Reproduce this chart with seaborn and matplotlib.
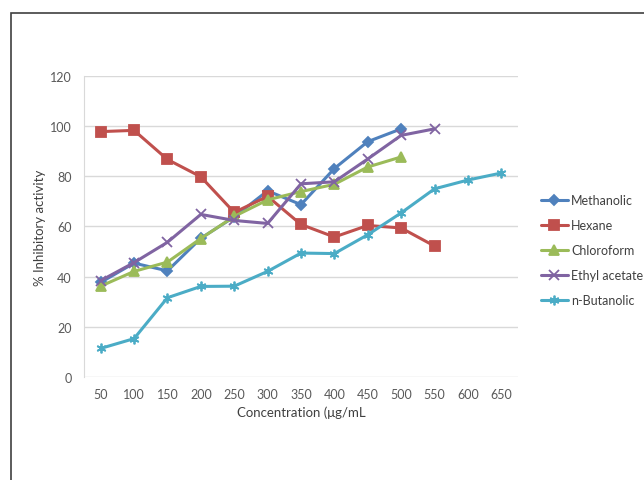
import pandas as pd
import seaborn as sns
import matplotlib.pyplot as plt
from matplotlib.patches import Rectangle

# data (% inhibition per concentration, ug/mL)
conc = [50, 100, 150, 200, 250, 300, 350, 400, 450, 500, 550, 600, 650]
methanolic = [37.7, 45.4, 42.3, 55.3, 63.8, 74.2, 68.7, 83.1, 93.8, 98.9]
hexane = [97.8, 98.3, 86.7, 79.8, 65.6, 72.0, 60.8, 55.8, 60.4, 59.4, 52.2]
chloroform = [36.2, 42.1, 45.8, 55.2, 64.0, 70.6, 73.9, 76.8, 83.7, 87.7]
ethyl_acetate = [38.4, 45.6, 53.7, 64.8, 62.4, 61.2, 77.0, 77.8, 86.9, 96.3, 98.9]
n_butanolic = [11.4, 15.3, 31.6, 36.1, 36.2, 42.1, 49.4, 49.2, 56.7, 65.4, 75.0, 78.5, 81.3]

series = {
    "Methanolic": methanolic,
    "Hexane": hexane,
    "Chloroform": chloroform,
    "Ethyl acetate": ethyl_acetate,
    "n-Butanolic": n_butanolic,
}

colors = {"Methanolic": "#4F81BD", "Hexane": "#C0504D", "Chloroform": "#9BBB59",
          "Ethyl acetate": "#8064A2", "n-Butanolic": "#4BACC6"}
markers = {"Methanolic": "D", "Hexane": "s", "Chloroform": "^",
           "Ethyl acetate": "x", "n-Butanolic": (6, 2, 0)}
msizes = {"Methanolic": 5, "Hexane": 6.5, "Chloroform": 6.5,
          "Ethyl acetate": 7, "n-Butanolic": 7}

sns.set_style("white")
plt.rcParams["font.family"] = ["Lato", "DejaVu Sans"]

fig = plt.figure(figsize=(6.44, 4.81), dpi=100)
ax = fig.add_axes([0.1304, 0.2141, 0.6739, 0.626])

# outer chart frame
fig.patches.append(Rectangle((11 / 644, -0.05), 1.0, 1 - 14 / 481 + 0.05,
                             transform=fig.transFigure, fill=False,
                             edgecolor="#404040", linewidth=1.2))

for name, vals in series.items():
    d = pd.DataFrame({"Concentration": conc[:len(vals)], "Inhibition": vals})
    sns.lineplot(data=d, x="Concentration", y="Inhibition", color=colors[name],
                 marker=markers[name], markersize=msizes[name],
                 markeredgewidth=1.3, markeredgecolor=colors[name],
                 linewidth=2.2, ax=ax, label=name, legend=False)

ax.set_xlim(25, 675)
ax.set_ylim(0, 120)
ax.set_xticks(conc)
ax.set_xticklabels([str(c) for c in conc])
ax.set_yticks(range(0, 121, 20))
ax.yaxis.grid(True, color="#D9D9D9", linewidth=1)
ax.xaxis.grid(False)
ax.tick_params(axis="both", length=0, labelsize=9, labelcolor="#595959")
ax.tick_params(axis="x", pad=8)
ax.tick_params(axis="y", pad=9)
for s in ["top", "right", "bottom"]:
    ax.spines[s].set_visible(False)
ax.spines["left"].set_color("#D9D9D9")
ax.set_xlabel("Concentration (\u03bcg/mL", fontsize=9.5, color="#404040", labelpad=4)
ax.set_ylabel("% Inhibitory activity", fontsize=9.5, color="#404040", labelpad=3)

# legend to the right of the plot area
handles = ax.get_lines()[:len(series)]
fig.legend(handles=handles, labels=list(series), loc="upper left",
           bbox_to_anchor=(0.822, 0.618), frameon=False, fontsize=9,
           labelcolor="#404040", handlelength=2.2, handletextpad=0.25,
           labelspacing=1.05)

fig.savefig("out.png", dpi=100)
